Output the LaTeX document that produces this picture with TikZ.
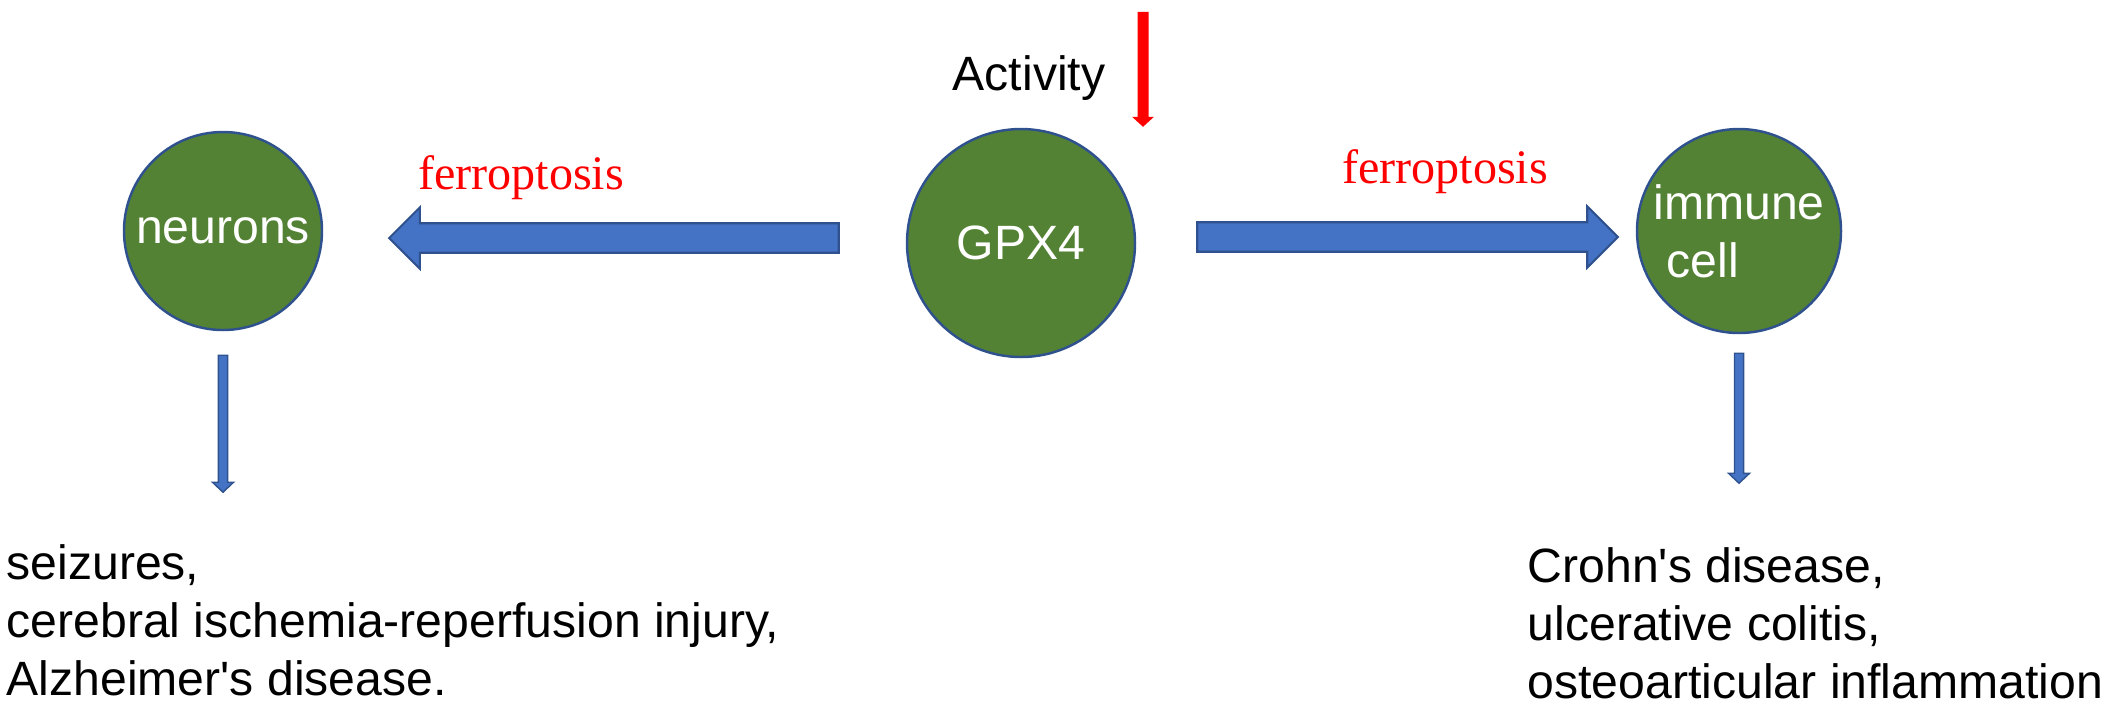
\documentclass[tikz,border=0pt]{standalone}
\usepackage{fontspec}
\setmainfont{Liberation Sans}
\newfontfamily\timesfont{Liberation Serif}
\usepackage{xcolor}
\usetikzlibrary{calc}

\definecolor{cellgreen}{HTML}{548235}
\definecolor{edgeblue}{HTML}{2F528F}
\definecolor{arrowblue}{HTML}{4472C4}

% block arrow between two points: shaft half width, head half width, head length (pt)
\tikzset{
  blockarrow/.style n args={3}{line join=miter,
    to path={let \p1=(\tikztostart), \p2=(\tikztotarget),
      \n1={atan2(\y2-\y1,\x2-\x1)}, \n2={veclen(\x2-\x1,\y2-\y1)-#3} in
      ($(\p1)+(\n1+90:#1)$) -- ($(\p1)+(\n1:\n2)+(\n1+90:#1)$)
      -- ($(\p1)+(\n1:\n2)+(\n1+90:#2)$) -- (\p2)
      -- ($(\p1)+(\n1:\n2)+(\n1-90:#2)$) -- ($(\p1)+(\n1:\n2)+(\n1-90:#1)$)
      -- ($(\p1)+(\n1-90:#1)$) -- cycle}}
}

\begin{document}
\begin{tikzpicture}[
    font=\fontsize{13.7}{16.5}\selectfont,
    cellnode/.style  ={circle, draw=edgeblue, line width=0.7pt, fill=cellgreen,
                       text=white, inner sep=0pt, align=left},
    redlabel/.style  ={text=red, font=\timesfont\fontsize{13.7}{16.5}\selectfont},
    listtext/.style  ={align=left, inner sep=0pt, anchor=south west},
    bigarrow/.style  ={draw=edgeblue, fill=arrowblue, line width=0.6pt,
                       blockarrow={4.2pt}{8.7pt}{8.7}},
    smallarrow/.style={draw=edgeblue, fill=arrowblue, line width=0.4pt,
                       blockarrow={1.3pt}{3pt}{2.85}},
    redarrow/.style  ={fill=red, blockarrow={1.56pt}{3.13pt}{2.85}}
]
\useasboundingbox (0,0) rectangle (21.14,-7.06);

% Cells
\node[cellnode, minimum size=1.98cm] (neurons) at (2.23,-2.31)  {neurons};
\node[cellnode, minimum size=2.28cm] (gpx)     at (10.21,-2.43) {GPX4};
\node[cellnode, minimum size=2.04cm] (immune)  at (17.39,-2.31) {immune\\\ cell};

% Labels
\node[anchor=base] (act) at (10.29,-0.90) {Activity};
\node[redlabel, anchor=base] (ferl) at (5.21,-1.89)  {ferroptosis};
\node[redlabel, anchor=base] (ferr) at (14.45,-1.83) {ferroptosis};

% Diseases
\node[listtext] (neurdis) at (0.06,-6.97)
    {seizures,\\cerebral ischemia-reperfusion injury,\\Alzheimer\textquotesingle s disease.};
\node[listtext] (immdis) at (15.27,-7.00)
    {Crohn\textquotesingle s disease,\\ulcerative colitis,\\osteoarticular inflammation};

% --- Arrows ---
\fill[redarrow] ([shift={(1.22,1.16)}]gpx.north) to ([shift={(1.22,0.01)}]gpx.north);
\draw[bigarrow] ([shift={(-0.67,0.05)}]gpx.west) to ([shift={(0.66,-0.07)}]neurons.east);
\draw[bigarrow] ([shift={(0.61,0.06)}]gpx.east) to ([shift={(-0.18,-0.06)}]immune.west);
\draw[smallarrow] ([yshift=-0.24cm]neurons.south) to ([yshift=-1.61cm]neurons.south);
\draw[smallarrow] ([yshift=-0.19cm]immune.south) to ([yshift=-1.49cm]immune.south);

\end{tikzpicture}
\end{document}
